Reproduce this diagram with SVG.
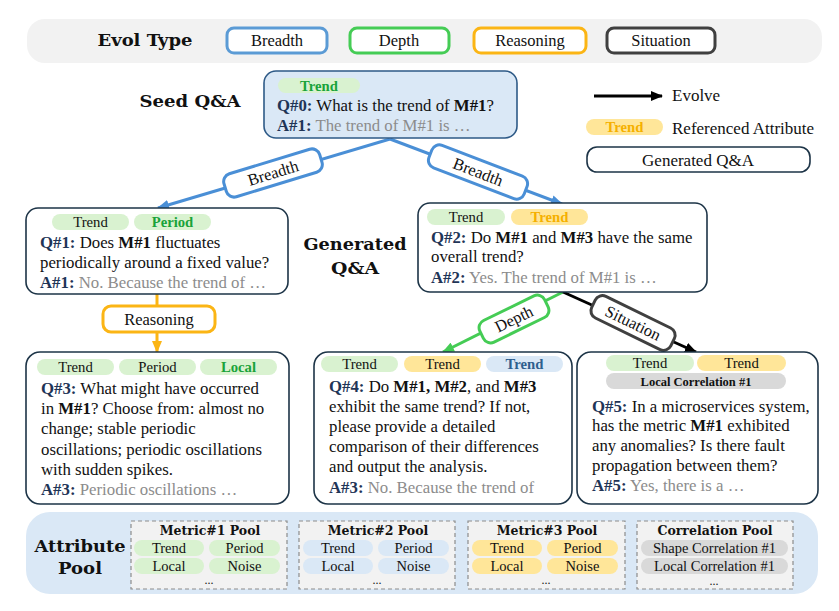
<svg xmlns="http://www.w3.org/2000/svg" width="839" height="611" viewBox="0 0 839 611" font-family="'Liberation Serif', 'Times New Roman', serif">
  <defs>
    <style>
      text { font-family: 'Liberation Serif', 'Times New Roman', serif; fill: #111; }
      .title { font-family: 'DejaVu Serif', 'Liberation Serif', serif; font-weight: bold; font-size: 17px; fill: #111; }
      .body { font-size: 16.8px; }
      .tag { font-size: 14.7px; text-anchor: middle; }
      .b { font-weight: bold; }
      .qid { font-weight: bold; fill: #1f3557; }
      .ans { fill: #8c8c8c; }
      .node { fill: #ffffff; stroke: #1d3447; stroke-width: 1.6; }
      .pg { fill: #d9f2d0; } .tg { fill: #1aa33a; font-weight: bold; }
      .py { fill: #ffe699; } .ty { fill: #f5b000; font-weight: bold; }
      .pb { fill: #dae8f6; } .tb { fill: #2e5f8e; font-weight: bold; }
      .pk { fill: #d9d9d9; }
      .pool { fill: #f2f2f2; stroke: #8c8c8c; stroke-width: 1.2; stroke-dasharray: 4 3; }
      .ptitle { font-family: 'DejaVu Serif', 'Liberation Serif', serif; font-weight: bold; font-size: 12.5px; text-anchor: middle; }
      .ptag { font-size: 14.5px; text-anchor: middle; }
      .dots { font-size: 12px; text-anchor: middle; }
      .lbl { fill: #ffffff; stroke-width: 3; }
      .lbltext { font-size: 16.5px; text-anchor: middle; }
    </style>
    <marker id="ahBlue" viewBox="0 0 12 10" refX="11" refY="5" markerWidth="12" markerHeight="10" markerUnits="userSpaceOnUse" orient="auto">
      <path d="M0,0 L12,5 L0,10 z" fill="#4a8fd6"/>
    </marker>
    <marker id="ahOrange" viewBox="0 0 12 10" refX="11" refY="5" markerWidth="12" markerHeight="10" markerUnits="userSpaceOnUse" orient="auto">
      <path d="M0,0 L12,5 L0,10 z" fill="#fbb515"/>
    </marker>
    <marker id="ahGreen" viewBox="0 0 12 10" refX="11" refY="5" markerWidth="12" markerHeight="10" markerUnits="userSpaceOnUse" orient="auto">
      <path d="M0,0 L12,5 L0,10 z" fill="#45cc55"/>
    </marker>
    <marker id="ahBlack" viewBox="0 0 12 10" refX="11" refY="5" markerWidth="12" markerHeight="10" markerUnits="userSpaceOnUse" orient="auto">
      <path d="M0,0 L12,5 L0,10 z" fill="#000000"/>
    </marker>
  </defs>

  <!-- Evolution type legend bar -->
  <g id="evol-type">
    <rect x="27" y="19" width="795" height="44" rx="18" fill="#f2f2f2"/>
    <text class="title" x="145" y="46" text-anchor="middle" textLength="95" lengthAdjust="spacingAndGlyphs">Evol Type</text>
    <rect x="227" y="28" width="100" height="25" rx="7" fill="#fff" stroke="#5b9bd5" stroke-width="3"/>
    <text x="277" y="46" font-size="16.5" text-anchor="middle" fill="#2e5f8e">Breadth</text>
    <rect x="350" y="28" width="99" height="25" rx="7" fill="#fff" stroke="#45cc55" stroke-width="3"/>
    <text x="399" y="46" font-size="16.5" text-anchor="middle" fill="#45cc55">Depth</text>
    <rect x="474" y="28" width="112" height="25" rx="7" fill="#fff" stroke="#fbb515" stroke-width="3"/>
    <text x="530" y="46" font-size="16.5" text-anchor="middle" fill="#fbb515">Reasoning</text>
    <rect x="607" y="28" width="108" height="25" rx="7" fill="#fff" stroke="#404040" stroke-width="3"/>
    <text x="661" y="46" font-size="16.5" text-anchor="middle" fill="#222">Situation</text>
  </g>

  <!-- Side legend -->
  <g id="legend">
    <line x1="594" y1="96" x2="662" y2="96" stroke="#000" stroke-width="3" marker-end="url(#ahBlack)"/>
    <text x="672" y="101" font-size="17">Evolve</text>
    <rect x="586" y="119" width="77" height="16" rx="8" fill="#ffe699"/>
    <text class="tag ty" x="624.5" y="132">Trend</text>
    <text x="672" y="134" font-size="17">Referenced Attribute</text>
    <rect x="587" y="147" width="223" height="25" rx="10" fill="#fff" stroke="#1d3447" stroke-width="1.6"/>
    <text x="698" y="166" font-size="17" text-anchor="middle">Generated Q&amp;A</text>
  </g>

  <!-- Section captions -->
  <text class="title" x="190" y="107" text-anchor="middle" textLength="101" lengthAdjust="spacingAndGlyphs">Seed Q&amp;A</text>
  <text class="title" x="355" y="250" text-anchor="middle" textLength="103" lengthAdjust="spacingAndGlyphs">Generated</text>
  <text class="title" x="355" y="274" text-anchor="middle" textLength="48" lengthAdjust="spacingAndGlyphs">Q&amp;A</text>

  <!-- Connectors -->
  <g id="connectors">
    <line x1="390" y1="139" x2="158" y2="208" stroke="#4a8fd6" stroke-width="3" marker-end="url(#ahBlue)"/>
    <line x1="390" y1="139" x2="562" y2="204" stroke="#4a8fd6" stroke-width="3" marker-end="url(#ahBlue)"/>
    <line x1="157" y1="294" x2="157" y2="352" stroke="#fbb515" stroke-width="3" marker-end="url(#ahOrange)"/>
    <line x1="563" y1="292" x2="443" y2="352" stroke="#45cc55" stroke-width="3" marker-end="url(#ahGreen)"/>
    <line x1="563" y1="292" x2="696" y2="352" stroke="#000" stroke-width="3" marker-end="url(#ahBlack)"/>

    <g transform="translate(273,173) rotate(-17)">
      <rect class="lbl" x="-50" y="-12" width="100" height="24" rx="8" stroke="#4a8fd6"/>
      <text class="lbltext" x="0" y="5.5" fill="#2e5f8e">Breadth</text>
    </g>
    <g transform="translate(478,172) rotate(21)">
      <rect class="lbl" x="-51" y="-12" width="102" height="24" rx="8" stroke="#4a8fd6"/>
      <text class="lbltext" x="0" y="5.5" fill="#2e5f8e">Breadth</text>
    </g>
    <g>
      <rect class="lbl" x="103" y="306" width="112" height="26" rx="8" stroke="#fbb515"/>
      <text class="lbltext" x="159" y="325" fill="#fbb515">Reasoning</text>
    </g>
    <g transform="translate(514,319) rotate(-26)">
      <rect class="lbl" x="-36" y="-12" width="72" height="24" rx="8" stroke="#45cc55"/>
      <text class="lbltext" x="0" y="5.5" fill="#45cc55">Depth</text>
    </g>
    <g transform="translate(633,323) rotate(26)">
      <rect class="lbl" x="-44" y="-12" width="88" height="24" rx="8" stroke="#404040"/>
      <text class="lbltext" x="0" y="5.5" fill="#222">Situation</text>
    </g>
  </g>

  <!-- Seed question -->
  <g id="q0">
    <rect x="264" y="71" width="253" height="67" rx="12" fill="#dae8f6" stroke="#2e5a87" stroke-width="1.6"/>
    <rect x="278" y="78" width="82" height="15" rx="7.5" fill="#d9f2d0"/>
    <text class="tag tg" x="319" y="90.5">Trend</text>
    <text class="body" x="277" y="111"><tspan class="qid">Q#0:</tspan> What is the trend of <tspan class="b">M#1</tspan>?</text>
    <text class="body" x="277" y="131"><tspan class="qid">A#1:</tspan> <tspan class="ans">The trend of M#1 is …</tspan></text>
  </g>

  <!-- Q#1 -->
  <g id="q1">
    <rect class="node" x="26" y="208" width="262" height="86" rx="12"/>
    <rect class="pg" x="52" y="214" width="77" height="16" rx="8"/>
    <text class="tag" x="90.5" y="227">Trend</text>
    <rect class="pg" x="134" y="214" width="77" height="16" rx="8"/>
    <text class="tag tg" x="172.5" y="227">Period</text>
    <text class="body" x="40" y="248"><tspan class="qid">Q#1:</tspan> Does <tspan class="b">M#1</tspan> fluctuates</text>
    <text class="body" x="40" y="268">periodically around a fixed value?</text>
    <text class="body" x="40" y="288"><tspan class="qid">A#1:</tspan> <tspan class="ans">No. Because the trend of …</tspan></text>
  </g>

  <!-- Q#2 -->
  <g id="q2">
    <rect class="node" x="418" y="203" width="289" height="89" rx="12"/>
    <rect class="pg" x="427" y="209" width="78" height="16" rx="8"/>
    <text class="tag" x="466" y="222">Trend</text>
    <rect class="py" x="511" y="209" width="77" height="16" rx="8"/>
    <text class="tag ty" x="549.5" y="222">Trend</text>
    <text class="body" x="431" y="243"><tspan class="qid">Q#2:</tspan> Do <tspan class="b">M#1</tspan> and <tspan class="b">M#3</tspan> have the same</text>
    <text class="body" x="431" y="262">overall trend?</text>
    <text class="body" x="431" y="283"><tspan class="qid">A#2:</tspan> <tspan class="ans">Yes. The trend of M#1 is …</tspan></text>
  </g>

  <!-- Q#3 -->
  <g id="q3">
    <rect class="node" x="26" y="352" width="263" height="152" rx="14"/>
    <rect class="pg" x="37" y="359" width="77" height="16" rx="8"/>
    <text class="tag" x="75.5" y="372">Trend</text>
    <rect class="pg" x="119" y="359" width="77" height="16" rx="8"/>
    <text class="tag" x="157.5" y="372">Period</text>
    <rect class="pg" x="200" y="359" width="77" height="16" rx="8"/>
    <text class="tag tg" x="238.5" y="372">Local</text>
    <text class="body" x="41" y="394"><tspan class="qid">Q#3:</tspan> What might have occurred</text>
    <text class="body" x="41" y="414">in <tspan class="b">M#1</tspan>? Choose from: almost no</text>
    <text class="body" x="41" y="434">change; stable periodic</text>
    <text class="body" x="41" y="455">oscillations; periodic oscillations</text>
    <text class="body" x="41" y="475">with sudden spikes.</text>
    <text class="body" x="41" y="495"><tspan class="qid">A#3:</tspan> <tspan class="ans">Periodic oscillations …</tspan></text>
  </g>

  <!-- Q#4 -->
  <g id="q4">
    <rect class="node" x="314" y="352" width="258" height="152" rx="14"/>
    <rect class="pg" x="321" y="356" width="77" height="16" rx="8"/>
    <text class="tag" x="359.5" y="369">Trend</text>
    <rect class="py" x="404" y="356" width="77" height="16" rx="8"/>
    <text class="tag" x="442.5" y="369">Trend</text>
    <rect class="pb" x="486" y="356" width="77" height="16" rx="8"/>
    <text class="tag tb" x="524.5" y="369">Trend</text>
    <text class="body" x="329" y="392"><tspan class="qid">Q#4:</tspan> Do <tspan class="b">M#1,</tspan> <tspan class="b">M#2</tspan>, and <tspan class="b">M#3</tspan></text>
    <text class="body" x="329" y="412">exhibit the same trend? If not,</text>
    <text class="body" x="329" y="432">please provide a detailed</text>
    <text class="body" x="329" y="452">comparison of their differences</text>
    <text class="body" x="329" y="472">and output the analysis.</text>
    <text class="body" x="329" y="493"><tspan class="qid">A#3:</tspan> <tspan class="ans">No. Because the trend of</tspan></text>
  </g>

  <!-- Q#5 -->
  <g id="q5">
    <rect class="node" x="577" y="352" width="241" height="152" rx="14"/>
    <rect class="pg" x="606" y="355" width="88" height="16" rx="8"/>
    <text class="tag" x="650" y="368">Trend</text>
    <rect class="py" x="697" y="355" width="89" height="16" rx="8"/>
    <text class="tag" x="741.5" y="368">Trend</text>
    <rect class="pk" x="606" y="373" width="180" height="16" rx="8"/>
    <text class="b" x="696" y="385.5" font-size="12.5" text-anchor="middle">Local  Correlation #1</text>
    <text class="body" x="592" y="412"><tspan class="qid">Q#5:</tspan> In a microservices system,</text>
    <text class="body" x="592" y="431">has the metric <tspan class="b">M#1</tspan> exhibited</text>
    <text class="body" x="592" y="451">any anomalies? Is there fault</text>
    <text class="body" x="592" y="471">propagation between them?</text>
    <text class="body" x="592" y="491"><tspan class="qid">A#5:</tspan> <tspan class="ans">Yes, there is a …</tspan></text>
  </g>

  <!-- Attribute pool -->
  <g id="attribute-pool">
    <rect x="26" y="512" width="792" height="82" rx="24" fill="#dae8f6"/>
    <text class="title" x="80" y="552" text-anchor="middle" textLength="91" lengthAdjust="spacingAndGlyphs">Attribute</text>
    <text class="title" x="80" y="574" text-anchor="middle" textLength="44" lengthAdjust="spacingAndGlyphs">Pool</text>
  </g>

  <g id="metric1-pool">
    <rect class="pool" x="131" y="521" width="156" height="68"/>
    <text class="ptitle" x="210" y="535" fill="#1aa33a">Metric#1 Pool</text>
    <rect class="pg" x="134" y="540" width="70" height="16" rx="8"/>
    <text class="ptag" x="169" y="553">Trend</text>
    <rect class="pg" x="209" y="540" width="71" height="16" rx="8"/>
    <text class="ptag" x="244.5" y="553">Period</text>
    <rect class="pg" x="134" y="558" width="70" height="16" rx="8"/>
    <text class="ptag" x="169" y="571">Local</text>
    <rect class="pg" x="209" y="558" width="71" height="16" rx="8"/>
    <text class="ptag" x="244.5" y="571">Noise</text>
    <text class="dots" x="209" y="584">...</text>
  </g>

  <g id="metric2-pool">
    <rect class="pool" x="299" y="521" width="156" height="68"/>
    <text class="ptitle" x="378" y="535" fill="#2e5f8e">Metric#2 Pool</text>
    <rect class="pb" x="303" y="540" width="70" height="16" rx="8"/>
    <text class="ptag" x="338" y="553">Trend</text>
    <rect class="pb" x="378" y="540" width="71" height="16" rx="8"/>
    <text class="ptag" x="413.5" y="553">Period</text>
    <rect class="pb" x="303" y="558" width="70" height="16" rx="8"/>
    <text class="ptag" x="338" y="571">Local</text>
    <rect class="pb" x="378" y="558" width="71" height="16" rx="8"/>
    <text class="ptag" x="413.5" y="571">Noise</text>
    <text class="dots" x="377" y="584">...</text>
  </g>

  <g id="metric3-pool">
    <rect class="pool" x="468" y="521" width="157" height="68"/>
    <text class="ptitle" x="547" y="535" fill="#f5b000">Metric#3 Pool</text>
    <rect class="py" x="472" y="540" width="70" height="16" rx="8"/>
    <text class="ptag" x="507" y="553">Trend</text>
    <rect class="py" x="547" y="540" width="71" height="16" rx="8"/>
    <text class="ptag" x="582.5" y="553">Period</text>
    <rect class="py" x="472" y="558" width="70" height="16" rx="8"/>
    <text class="ptag" x="507" y="571">Local</text>
    <rect class="py" x="547" y="558" width="71" height="16" rx="8"/>
    <text class="ptag" x="582.5" y="571">Noise</text>
    <text class="dots" x="546" y="584">...</text>
  </g>

  <g id="correlation-pool">
    <rect class="pool" x="637" y="521" width="156" height="68"/>
    <text class="ptitle" x="715" y="535" fill="#7f7f7f">Correlation Pool</text>
    <rect class="pk" x="641" y="540" width="147" height="16" rx="8"/>
    <text class="ptag" x="714.5" y="553">Shape Correlation #1</text>
    <rect class="pk" x="641" y="558" width="147" height="16" rx="8"/>
    <text class="ptag" x="714.5" y="570.5">Local  Correlation #1</text>
    <text class="dots" x="714" y="585">...</text>
  </g>
</svg>
